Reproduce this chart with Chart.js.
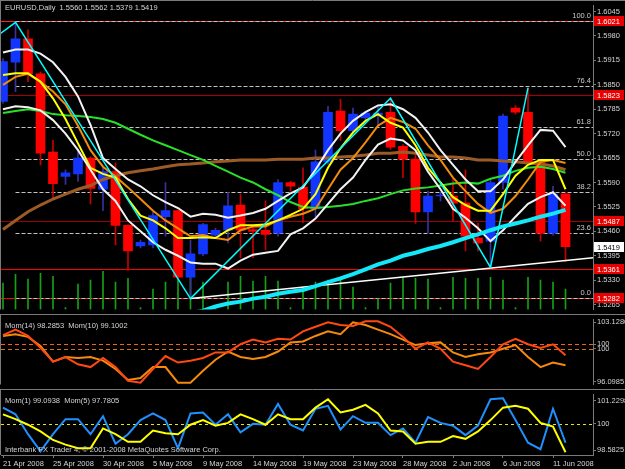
<!DOCTYPE html>
<html>
<head>
<meta charset="utf-8">
<script src="https://cdn.jsdelivr.net/npm/chart.js@4.4.0/dist/chart.umd.min.js"></script>
<style>
  html, body { margin: 0; padding: 0; background: #000; }
  body { width: 625px; height: 469px; position: relative; overflow: hidden; }
  canvas { position: absolute; left: 0; }
  #main { top: 0; }
  #mom1 { top: 314px; }
  #mom2 { top: 389px; }
</style>
</head>
<body>
<canvas id="main" width="625" height="315"></canvas>
<canvas id="mom1" width="625" height="76"></canvas>
<canvas id="mom2" width="625" height="80"></canvas>
<script>
// EURUSD daily, 21 Apr - 12 Jun 2008 (bar 0 = 21 Apr, Sunday bars included)
const opens  = [1.5806,1.5910,1.5972,1.5879,1.5671,1.5606,1.5613,1.5655,1.5572,1.5619,1.5476,1.5421,1.5424,1.5499,1.5515,1.5338,1.5400,1.5450,1.5463,1.5530,1.5465,1.5463,1.5455,1.5590,1.5577,1.5520,1.5645,1.5780,1.5728,1.5762,1.5769,1.5777,1.5686,1.5652,1.5512,1.5554,1.5554,1.5535,1.5442,1.5434,1.5590,1.5788,1.5777,1.5645,1.5455,1.5560];
const highs  = [1.5920,1.6016,1.5996,1.5884,1.5702,1.5624,1.5678,1.5658,1.5629,1.5642,1.5478,1.5437,1.5512,1.5590,1.5517,1.5437,1.5481,1.5468,1.5564,1.5559,1.5470,1.5541,1.5598,1.5593,1.5629,1.5676,1.5793,1.5811,1.5788,1.5780,1.5790,1.5814,1.5691,1.5663,1.5567,1.5564,1.5598,1.5624,1.5481,1.5598,1.5772,1.5795,1.5842,1.5650,1.5580,1.5562];
const lows   = [1.5801,1.5832,1.5858,1.5637,1.5548,1.5585,1.5593,1.5533,1.5515,1.5424,1.5356,1.5416,1.5416,1.5447,1.5333,1.5281,1.5395,1.5442,1.5429,1.5390,1.5390,1.5411,1.5447,1.5567,1.5483,1.5499,1.5639,1.5702,1.5723,1.5754,1.5741,1.5678,1.5603,1.5481,1.5455,1.5541,1.5486,1.5408,1.5408,1.5364,1.5572,1.5772,1.5637,1.5434,1.5450,1.5379];
const closes = [1.5912,1.5972,1.5879,1.5668,1.5587,1.5616,1.5655,1.5574,1.5619,1.5476,1.5408,1.5431,1.5502,1.5515,1.5338,1.5400,1.5478,1.5463,1.5528,1.5463,1.5460,1.5452,1.5590,1.5580,1.5520,1.5645,1.5777,1.5728,1.5772,1.5775,1.5775,1.5684,1.5652,1.5512,1.5554,1.5555,1.5535,1.5447,1.5429,1.5590,1.5767,1.5777,1.5645,1.5455,1.5559,1.5419];
const volumes = [2700,3600,3100,3700,3400,200,2600,3000,3900,2800,3200,200,2100,2800,3100,3500,2800,200,2800,3400,2900,3400,2900,200,2300,2800,3000,3100,2300,200,1100,2700,3300,3200,3100,200,3300,3200,3200,3300,3000,200,3300,3000,2800,2100];

// moving averages
const maWhiteUpper = [1.5936,1.5944,1.5944,1.5933,1.5910,1.5871,1.5819,1.5743,1.5655,1.5626,1.5598,1.5580,1.5556,1.5538,1.5522,1.5499,1.5507,1.5504,1.5496,1.5502,1.5509,1.5520,1.5541,1.5561,1.5577,1.5624,1.5676,1.5720,1.5754,1.5777,1.5795,1.5798,1.5785,1.5762,1.5723,1.5676,1.5637,1.5598,1.5567,1.5567,1.5598,1.5645,1.5689,1.5730,1.5728,1.5684];
const maWhiteLower = [1.5785,1.5793,1.5790,1.5782,1.5756,1.5720,1.5676,1.5624,1.5572,1.5541,1.5489,1.5460,1.5431,1.5411,1.5395,1.5377,1.5374,1.5374,1.5361,1.5382,1.5398,1.5403,1.5408,1.5452,1.5468,1.5494,1.5533,1.5572,1.5603,1.5650,1.5691,1.5707,1.5702,1.5676,1.5619,1.5572,1.5520,1.5496,1.5468,1.5434,1.5463,1.5499,1.5533,1.5551,1.5564,1.5528];
const maYellow = [1.5876,1.5881,1.5881,1.5858,1.5814,1.5759,1.5694,1.5629,1.5613,1.5603,1.5546,1.5502,1.5489,1.5468,1.5442,1.5442,1.5444,1.5442,1.5463,1.5476,1.5476,1.5478,1.5489,1.5504,1.5520,1.5559,1.5629,1.5681,1.5723,1.5754,1.5772,1.5749,1.5736,1.5689,1.5629,1.5590,1.5551,1.5530,1.5515,1.5515,1.5559,1.5608,1.5637,1.5650,1.5650,1.5572];
const maOrange = [1.5850,1.5871,1.5879,1.5858,1.5832,1.5798,1.5741,1.5676,1.5632,1.5606,1.5577,1.5546,1.5515,1.5489,1.5468,1.5447,1.5450,1.5442,1.5437,1.5463,1.5473,1.5473,1.5489,1.5499,1.5507,1.5520,1.5572,1.5624,1.5655,1.5697,1.5741,1.5762,1.5751,1.5733,1.5689,1.5650,1.5603,1.5567,1.5533,1.5509,1.5520,1.5554,1.5598,1.5645,1.5650,1.5642];
const maGreen = [1.5775,1.5780,1.5785,1.5780,1.5772,1.5769,1.5767,1.5764,1.5759,1.5749,1.5733,1.5717,1.5702,1.5689,1.5676,1.5663,1.5650,1.5634,1.5619,1.5603,1.5590,1.5572,1.5556,1.5538,1.5525,1.5522,1.5525,1.5528,1.5533,1.5541,1.5548,1.5559,1.5569,1.5574,1.5577,1.5582,1.5587,1.5590,1.5587,1.5600,1.5608,1.5621,1.5629,1.5632,1.5626,1.5616];
const maBrown = [1.5465,1.5489,1.5512,1.5530,1.5546,1.5559,1.5572,1.5582,1.5598,1.5608,1.5616,1.5621,1.5626,1.5632,1.5637,1.5639,1.5642,1.5645,1.5647,1.5650,1.5650,1.5650,1.5652,1.5652,1.5652,1.5655,1.5655,1.5658,1.5660,1.5663,1.5668,1.5668,1.5671,1.5668,1.5663,1.5658,1.5658,1.5655,1.5650,1.5650,1.5647,1.5645,1.5642,1.5639,1.5634,1.5624];
const maCyanStart = 14;
const maCyan = [1.5234,1.5242,1.5249,1.5260,1.5268,1.5273,1.5281,1.5286,1.5294,1.5299,1.5304,1.5314,1.5325,1.5335,1.5346,1.5359,1.5372,1.5382,1.5395,1.5403,1.5413,1.5421,1.5431,1.5442,1.5452,1.5463,1.5473,1.5481,1.5489,1.5499,1.5507,1.5517];

const zigzagBars = [-1, 1, 15, 31, 39, 42];
const zigzagPrices = [1.5967, 1.6016, 1.5281, 1.5814, 1.5364, 1.5842];
const trendBars = [15, 47.2];
const trendPrices = [1.5281, 1.5390];

const levelPrices = [1.6021, 1.5823, 1.5487, 1.5361, 1.5282];
const fibLow = 1.5282, fibHigh = 1.6021, fibStartBar = 1;
const fibRatios = [0, 23.6, 38.2, 50, 61.8, 76.4, 100];
const priceTicks = [1.6045,1.5980,1.5915,1.5850,1.5785,1.5720,1.5655,1.5590,1.5525,1.5460,1.5395,1.5330,1.5265];

const mom14 = [101.61,102.26,101.51,100.10,98.48,99.02,98.16,97.83,98.91,97.83,96.21,95.99,97.61,99.13,98.37,98.59,98.91,99.56,99.56,100.53,101.08,100.75,101.18,101.08,102.05,102.59,103.13,102.81,102.70,103.24,103.24,102.59,101.40,99.99,100.75,99.99,98.48,98.05,97.61,99.02,100.53,101.18,100.53,100.10,100.53,99.24];
const mom10 = [101.51,101.72,101.40,100.32,98.48,99.02,98.91,99.02,98.59,97.61,96.32,96.53,97.83,97.83,95.99,95.99,97.40,98.70,99.67,99.02,98.80,99.02,99.67,100.75,100.86,101.51,102.05,101.72,103.13,102.81,102.26,101.72,101.08,100.43,100.64,100.75,99.56,99.02,99.35,99.56,99.99,100.43,99.02,97.83,98.37,98.05];
const mom1 = [100.87,100.51,99.44,98.52,99.44,100.25,100.25,99.44,100.41,98.93,99.44,100.20,100.56,100.20,98.68,100.56,100.61,99.95,100.51,99.54,100.00,99.95,101.07,99.95,99.64,100.81,100.97,99.69,100.41,100.05,100.05,99.39,99.75,98.98,100.36,100.05,99.90,99.39,99.90,101.32,101.37,100.20,98.98,98.63,100.81,98.98];
const mom5 = [100.51,100.25,99.95,99.59,99.13,98.88,98.68,98.68,99.75,99.44,99.03,99.03,99.64,99.49,99.44,99.95,100.20,99.90,100.05,100.51,100.25,99.95,100.51,100.25,100.25,100.87,101.32,100.61,100.76,101.02,100.56,99.64,99.59,98.93,99.03,99.03,99.34,99.19,99.59,100.20,100.87,100.97,100.81,100.05,99.85,98.47];

const momALevels = [100.53, 99.99];
const momATicks = [103.1286, 100.53, 99.99, 96.0985];
const momATickLabels = ['103.1286', '100', '100', '96.0985'];
const momBLevels = [100];
const momBTicks = [101.2298, 100, 98.5825];
const momBTickLabels = ['101.2298', '100', '98.5825'];

const dateTickBars = [0, 4, 8, 12, 16, 20, 24, 28, 32, 36, 40, 44];
const dateLabels = ['21 Apr 2008','25 Apr 2008','30 Apr 2008','5 May 2008','9 May 2008','14 May 2008','19 May 2008','23 May 2008','28 May 2008','2 Jun 2008','6 Jun 2008','11 Jun 2008'];

// layout / style
const xMin = -0.16, xMax = 47.2;
const axisWidth = 32;
const fontFamily = "'Liberation Sans', Arial, sans-serif";
const textColor = '#d4d4d4';
const frameColor = '#7a7a7a';
const smallFont = { family: fontFamily, size: 7.5 };

const last = closes.length - 1;
const bars = closes.map((_, i) => i);
const isUp = bars.map(i => closes[i] >= opens[i]);

function lineSet(label, values, color, width, order, start = 0) {
  return {
    type: 'line', label,
    data: values.map((v, i) => ({ x: i + start, y: v })),
    borderColor: color, borderWidth: width, pointRadius: 0, tension: 0,
    fill: false, clip: 0, order
  };
}

function rightAxis(min, max, ticks, labels) {
  return {
    type: 'linear', position: 'right', min, max,
    afterBuildTicks: s => { s.ticks = ticks.map(v => ({ value: v })); },
    afterFit: s => { s.width = axisWidth; },
    ticks: { color: textColor, font: smallFont, padding: 1, autoSkip: false,
      callback: (v, i) => labels[i] },
    grid: { drawOnChartArea: false, drawTicks: true, tickLength: 3, color: frameColor },
    border: { display: true, color: frameColor }
  };
}

function hline(ctx, x0, x1, y) {
  ctx.beginPath();
  ctx.moveTo(x0, y);
  ctx.lineTo(x1, y);
  ctx.stroke();
}

function drawFrame(chart) {
  const { ctx, chartArea: a } = chart;
  ctx.save();
  ctx.strokeStyle = frameColor;
  ctx.lineWidth = 1;
  hline(ctx, 0, chart.width, 0.5);
  ctx.beginPath();
  ctx.moveTo(0.5, 0);
  ctx.lineTo(0.5, a.bottom);
  ctx.stroke();
  ctx.restore();
}

function priceBox(ctx, a, width, y, text, bg, fg) {
  ctx.fillStyle = bg;
  ctx.fillRect(a.right + 1, Math.round(y) - 5, width - a.right - 2, 10);
  ctx.fillStyle = fg;
  ctx.font = `7.5px ${fontFamily}`;
  ctx.textAlign = 'left';
  ctx.textBaseline = 'middle';
  ctx.fillText(text, a.right + 4, Math.round(y) + 0.5);
}

const levelColors = ['#ff2020', '#a80000', '#a00000', '#ff0000', '#ff0000'];

const mainDecor = {
  id: 'mainDecor',
  beforeDatasetsDraw(chart) {
    const { ctx, chartArea: a, scales: { x, y } } = chart;
    ctx.save();
    ctx.beginPath();
    ctx.rect(a.left, a.top, a.right - a.left, a.bottom - a.top);
    ctx.clip();
    ctx.lineWidth = 1;
    levelPrices.forEach((p, i) => {
      ctx.strokeStyle = levelColors[i];
      hline(ctx, a.left, a.right, Math.round(y.getPixelForValue(p)) + 0.5);
    });
    ctx.strokeStyle = '#c4c4c4';
    ctx.setLineDash([4, 2]);
    const fx = x.getPixelForValue(fibStartBar);
    fibRatios.forEach(r => {
      const p = fibLow + (fibHigh - fibLow) * r / 100;
      hline(ctx, fx, a.right, Math.round(y.getPixelForValue(p)) + 0.5);
    });
    ctx.restore();
  },
  afterDatasetsDraw(chart) {
    const { ctx, chartArea: a, scales: { y } } = chart;
    ctx.save();
    ctx.fillStyle = '#c8c8c8';
    ctx.font = `7.5px ${fontFamily}`;
    ctx.textAlign = 'right';
    ctx.textBaseline = 'bottom';
    fibRatios.forEach(r => {
      const p = fibLow + (fibHigh - fibLow) * r / 100;
      ctx.fillText(r.toFixed(1), a.right - 2, Math.round(y.getPixelForValue(p)) - 1);
    });
    ctx.restore();
  },
  afterDraw(chart) {
    const { ctx, chartArea: a, scales: { y } } = chart;
    drawFrame(chart);
    ctx.save();
    levelPrices.forEach(p => priceBox(ctx, a, chart.width, y.getPixelForValue(p), p.toFixed(4), '#e80000', '#ffffff'));
    priceBox(ctx, a, chart.width, y.getPixelForValue(closes[last]), closes[last].toFixed(4), '#ffffff', '#000000');
    ctx.fillStyle = textColor;
    ctx.font = `7.5px ${fontFamily}`;
    ctx.textAlign = 'left';
    ctx.textBaseline = 'middle';
    const hdr = [opens[last], highs[last], lows[last], closes[last]].map(v => v.toFixed(4)).join(' ');
    ctx.fillText('EURUSD,Daily  ' + hdr, a.left + 4, 7.5);
    ctx.restore();
  }
};

function panelDecor(id, title, levels, colors, dash, footer) {
  return {
    id,
    beforeDatasetsDraw(chart) {
      const { ctx, chartArea: a, scales: { y } } = chart;
      ctx.save();
      ctx.lineWidth = 1;
      ctx.setLineDash(dash);
      levels.forEach((v, i) => {
        ctx.strokeStyle = colors[i];
        hline(ctx, a.left, a.right, Math.round(y.getPixelForValue(v)) + 0.5);
      });
      ctx.restore();
    },
    afterDraw(chart) {
      const { ctx, chartArea: a } = chart;
      drawFrame(chart);
      ctx.save();
      ctx.fillStyle = textColor;
      ctx.font = `7.5px ${fontFamily}`;
      ctx.textAlign = 'left';
      ctx.textBaseline = 'middle';
      ctx.fillText(title, a.left + 4, a.top + 6);
      if (footer) ctx.fillText(footer, a.left + 4, a.bottom - 5);
      ctx.restore();
    }
  };
}

const baseOptions = {
  responsive: false, animation: false, devicePixelRatio: 1,
  plugins: { legend: { display: false }, tooltip: { enabled: false } }
};

// main price chart
new Chart(document.getElementById('main'), {
  type: 'bar',
  data: {
    datasets: [
      { type: 'bar', label: 'Volume', yAxisID: 'vol',
        data: bars.map(i => ({ x: i, y: volumes[i] })),
        backgroundColor: '#15a015', barThickness: 1, grouped: false, order: 10 },
      { type: 'bar', label: 'Wick', yAxisID: 'y',
        data: bars.map(i => ({ x: i, y: [lows[i], highs[i]] })),
        backgroundColor: isUp.map(u => u ? '#3d2fa0' : '#c40000'), barThickness: 1, grouped: false, order: 9 },
      { type: 'bar', label: 'Body', yAxisID: 'y',
        data: bars.map(i => ({ x: i, y: [opens[i], closes[i]] })),
        backgroundColor: isUp.map(u => u ? '#1236ff' : '#ff0000'), barThickness: 9, minBarLength: 1, grouped: false, order: 8 },
      lineSet('MA brown', maBrown, '#9c5a26', 3, 7),
      lineSet('MA green', maGreen, '#28e028', 2, 6),
      lineSet('MA orange', maOrange, '#f08c0a', 2, 5),
      lineSet('MA yellow', maYellow, '#ffff00', 2, 4),
      lineSet('Band upper', maWhiteUpper, '#f2f2f2', 2, 3),
      lineSet('Band lower', maWhiteLower, '#f2f2f2', 2, 3),
      lineSet('MA cyan', maCyan, '#12e8f8', 4, 2, maCyanStart),
      { type: 'line', label: 'Trend', data: trendBars.map((b, i) => ({ x: b, y: trendPrices[i] })),
        borderColor: '#ffffff', borderWidth: 1.5, pointRadius: 0, clip: 0, order: 2 },
      { type: 'line', label: 'ZigZag', data: zigzagBars.map((b, i) => ({ x: b, y: zigzagPrices[i] })),
        borderColor: '#00ffff', borderWidth: 1.5, pointRadius: 0, clip: 0, order: 1 }
    ]
  },
  options: {
    ...baseOptions,
    layout: { padding: { left: 1, top: 2, right: 0, bottom: 2 } },
    scales: {
      x: { type: 'linear', min: xMin, max: xMax, offset: false, display: false },
      y: rightAxis(1.5252, 1.6061, priceTicks, priceTicks.map(v => v.toFixed(4))),
      vol: { type: 'linear', display: false, min: 0, max: 31100 }
    }
  },
  plugins: [mainDecor]
});

// Mom(14) / Mom(10)
new Chart(document.getElementById('mom1'), {
  type: 'line',
  data: {
    datasets: [
      lineSet('Mom(14)', mom14, '#ff4812', 2, 1),
      lineSet('Mom(10)', mom10, '#f58a0c', 2, 2)
    ]
  },
  options: {
    ...baseOptions,
    layout: { padding: { left: 1, top: 2, right: 0, bottom: 3 } },
    scales: {
      x: { type: 'linear', min: xMin, max: xMax, offset: false, display: false },
      y: rightAxis(95.774, 103.453, momATicks, momATickLabels)
    }
  },
  plugins: [panelDecor('momA', 'Mom(14) 98.2853  Mom(10) 99.1002', momALevels, ['#ff5a1a', '#c8781a'], [4, 3])]
});

// Mom(1) / Mom(5)
new Chart(document.getElementById('mom2'), {
  type: 'line',
  data: {
    datasets: [
      lineSet('Mom(1)', mom1, '#2090ff', 2, 2),
      lineSet('Mom(5)', mom5, '#ffff00', 2, 1)
    ]
  },
  options: {
    ...baseOptions,
    layout: { padding: { left: 1, top: 2, right: 0, bottom: 0 } },
    scales: {
      x: {
        type: 'linear', min: xMin, max: xMax, offset: false, position: 'bottom',
        afterBuildTicks: s => { s.ticks = dateTickBars.map(v => ({ value: v })); },
        afterFit: s => { s.height = 14; },
        ticks: { color: textColor, font: { family: fontFamily, size: 7.5 }, padding: 1,
          autoSkip: false, maxRotation: 0, align: 'start', callback: (v, i) => dateLabels[i] },
        grid: { drawOnChartArea: false, drawTicks: true, tickLength: 3, color: frameColor },
        border: { display: true, color: frameColor }
      },
      y: rightAxis(98.320, 101.578, momBTicks, momBTickLabels)
    }
  },
  plugins: [panelDecor('momB', 'Mom(1) 99.0938  Mom(5) 97.7805', momBLevels, ['#e8e800'], [3, 3],
    'Interbank FX Trader 4, \u00a9 2001-2008 MetaQuotes Software Corp.')]
});
</script>
</body>
</html>
